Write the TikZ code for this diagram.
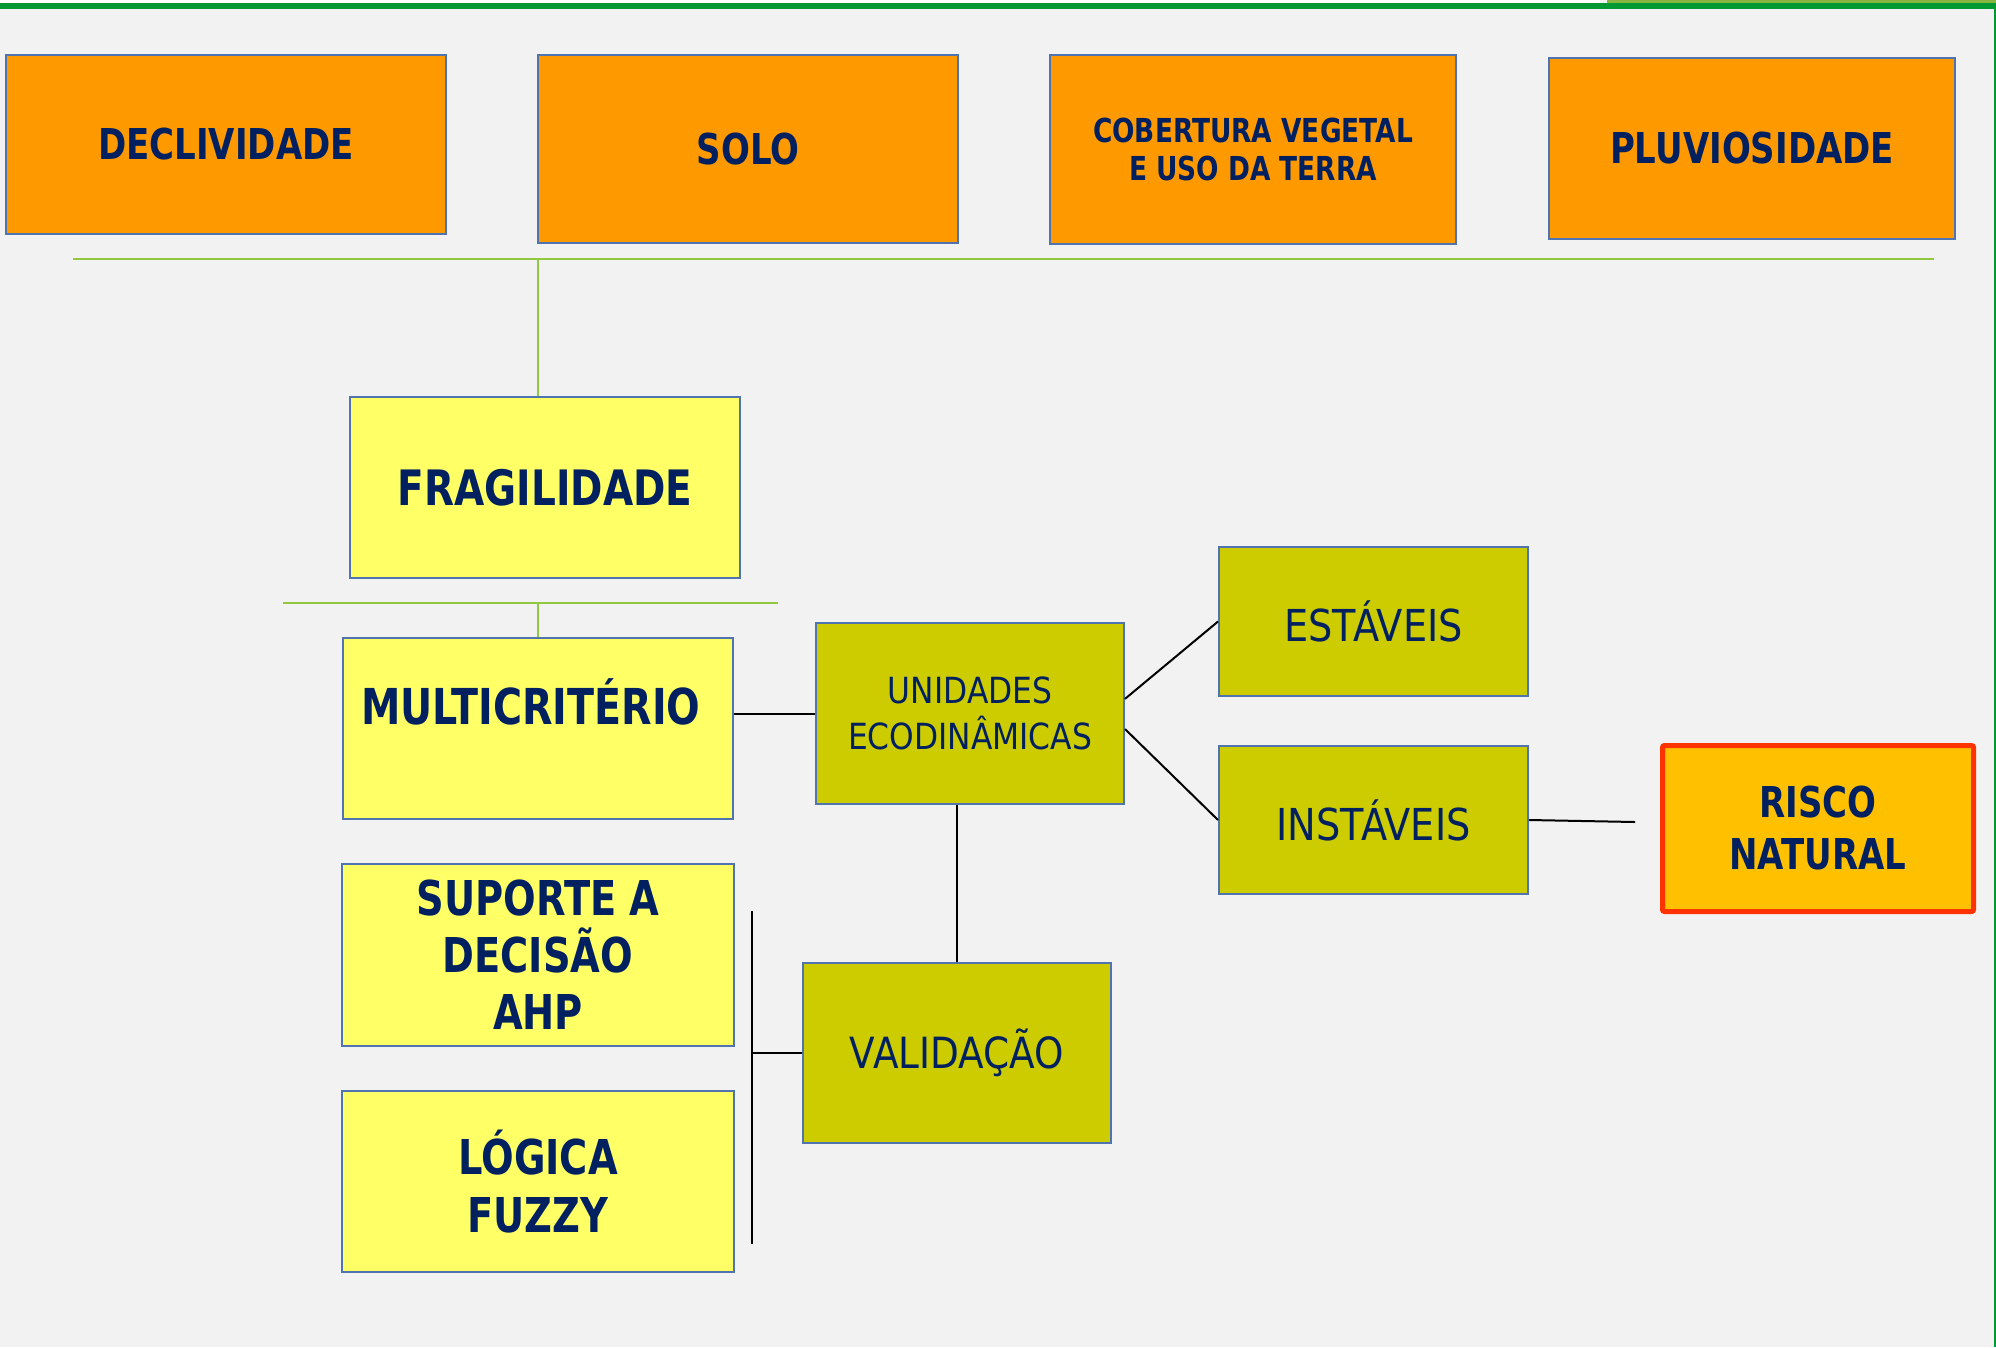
\documentclass[tikz,border=0pt]{standalone}
\usepackage{fontspec}
\setmainfont{DejaVu Sans}[FakeStretch=0.8]
\newfontfamily\regfont{DejaVu Sans}[FakeStretch=0.87]
\usetikzlibrary{calc}
\definecolor{bg}{HTML}{F2F2F2}
\definecolor{orangef}{HTML}{FF9900}
\definecolor{yellowf}{HTML}{FFFF66}
\definecolor{olivef}{HTML}{CCCC00}
\definecolor{riscof}{HTML}{FFC000}
\definecolor{riscod}{HTML}{FF3300}
\definecolor{boxline}{HTML}{4F74B0}
\definecolor{navy}{HTML}{002060}
\definecolor{gline}{HTML}{92C83E}
\definecolor{gbar}{HTML}{009933}
\definecolor{gtop}{HTML}{86B540}
\tikzset{
  box/.style={draw=boxline, line width=2pt, inner sep=0pt, text=navy, align=center},
  orangebox/.style={box, fill=orangef},
  yellowbox/.style={box, fill=yellowf},
  olivebox/.style={box, fill=olivef},
  riscobox/.style={draw=riscod, line width=5pt, fill=riscof, rounded corners=2pt, inner sep=0pt, text=navy, align=center},
  greenline/.style={draw=gline, line width=2.4pt},
  blackline/.style={draw=black, line width=2pt},
}
\newcommand{\fs}[2]{\fontsize{#1}{#2}\selectfont}
\begin{document}
\begin{tikzpicture}[x=1pt,y=-1pt]
\useasboundingbox (0,0) rectangle (1996,1347);
\fill[bg] (0,0) rectangle (1996,1347);
% top strip and frame
\fill[white] (0,0) rectangle (1600,3);
\fill[gtop] (1607,0) rectangle (1996,3);
\fill[gbar] (0,3) rectangle (1996,9);
\fill[gbar] (1993.5,9) rectangle (1996,1347);

% top row
\node[orangebox, minimum width=440, minimum height=179, font=\bfseries\fs{42.5}{50}] (decl) at (226,144.5) {DECLIVIDADE};
\node[orangebox, minimum width=420, minimum height=188, font=\bfseries\fs{42.5}{50}] (solo) at (748,149) {SOLO};
\node[orangebox, minimum width=406, minimum height=189, font=\bfseries\fs{33}{38}] (cob) at (1253,149.5) {COBERTURA VEGETAL\\E USO DA TERRA};
\node[orangebox, minimum width=406, minimum height=181, font=\bfseries\fs{42.5}{50}] (pluv) at (1752,148.5) {PLUVIOSIDADE};

% fragilidade
\node[yellowbox, minimum width=390, minimum height=181, font=\bfseries\fs{48.8}{56}] (frag) at (545,487.5) {FRAGILIDADE};
\node[yellowbox, minimum width=390, minimum height=181] (multi) at (538,728.5) {};
\node[text=navy, font=\bfseries\fs{49.5}{56}, inner sep=0pt] (multit) at (531,702) {MULTICRITÉRIO};
\node[yellowbox, minimum width=392, minimum height=182, font=\bfseries\fs{48}{57}] (sup) at (538,955) {SUPORTE A\\DECISÃO\\AHP};
\node[yellowbox, minimum width=392, minimum height=181, font=\bfseries\fs{48}{58}] (log) at (538,1181.5) {LÓGICA\\FUZZY};

% olive boxes
\node[olivebox, minimum width=308, minimum height=181, font=\regfont\fs{36}{46}] (unid) at (970,713.5) {UNIDADES\\ECODINÂMICAS};
\node[olivebox, minimum width=309, minimum height=149, font=\regfont\fs{44}{50}] (est) at (1373.5,621.5) {ESTÁVEIS};
\node[olivebox, minimum width=309, minimum height=148, font=\regfont\fs{44}{50}] (inst) at (1373.5,820) {INSTÁVEIS};
\node[olivebox, minimum width=308, minimum height=180, font=\regfont\fs{43}{50}] (val) at (957,1053) {VALIDAÇÃO};

% risco
\node[riscobox, minimum width=311, minimum height=166, font=\bfseries\fs{42.5}{52}] (risco) at (1818,828.5) {RISCO\\NATURAL};

% green connectors
\coordinate (g1l) at (73,259);
\coordinate (g1r) at (1934,259);
\coordinate (g1m) at (538,259);
\draw[greenline] (g1l) -- (g1r);
\draw[greenline] (g1m) -- (g1m |- frag.north);
\coordinate (g2l) at (283,603);
\coordinate (g2r) at (778,603);
\coordinate (g2m) at (538,603);
\draw[greenline] (g2l) -- (g2r);
\draw[greenline] (g2m) -- (multi.north);

% black connectors
\draw[blackline] (multi.east |- unid.west) -- (unid.west);
\draw[blackline] ($(unid.north east)!0.42!(unid.south east)$) -- (est.west);
\draw[blackline] ($(unid.north east)!0.585!(unid.south east)$) -- (inst.west);
\coordinate (rend) at (1635,822);
\draw[blackline] (inst.east) -- (rend);
\draw[blackline] (unid.south -| val.north) -- (val.north);
\coordinate (bt) at (752,911);
\coordinate (bb) at (752,1244);
\draw[blackline] (bt) -- (bb);
\draw[blackline] (bt |- val.west) -- (val.west);
\end{tikzpicture}
\end{document}
